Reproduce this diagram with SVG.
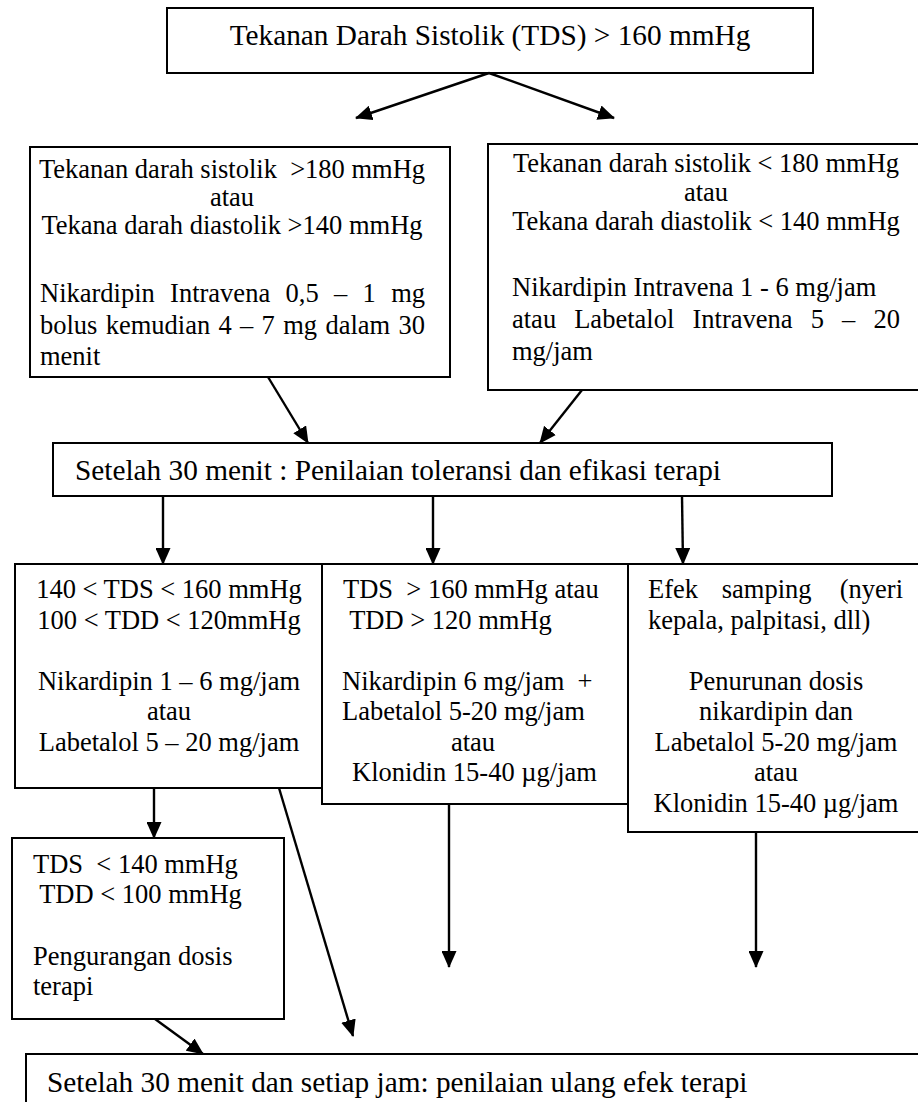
<svg xmlns="http://www.w3.org/2000/svg" width="918" height="1102" viewBox="0 0 918 1102">
<style>
.box{fill:#fff;stroke:#000;stroke-width:2}
.t{font-family:"Liberation Serif","Times New Roman",serif;font-size:26.5px;fill:#000;white-space:pre}
.big{font-size:29.3px}
.c{text-anchor:middle}
.conn line{stroke:#000;stroke-width:2.4;fill:none}
</style>
<defs>
<marker id="ah" viewBox="0 0 17 15" refX="16" refY="7.5" markerWidth="17" markerHeight="15" markerUnits="userSpaceOnUse" orient="auto">
<path d="M0,0 L17,7.5 L0,15 z" fill="#000"/>
</marker>
</defs>
<rect width="918" height="1102" fill="#fff"/>

<g id="top">
<rect class="box" x="167" y="8" width="646" height="65"/>
<text class="t big c" x="490" y="45">Tekanan Darah Sistolik (TDS) &gt; 160 mmHg</text>
</g>

<g id="left1">
<rect class="box" x="30" y="147" width="420" height="230"/>
<text class="t c" x="232" y="178">Tekanan darah sistolik  &gt;180 mmHg</text>
<text class="t c" x="232" y="206">atau</text>
<text class="t c" x="232" y="234">Tekana darah diastolik &gt;140 mmHg</text>
<text class="t" y="302"><tspan x="40">Nikardipin</tspan><tspan x="170.1">Intravena</tspan><tspan x="285.5">0,5</tspan><tspan x="334">–</tspan><tspan x="362.5">1</tspan><tspan x="425" text-anchor="end">mg</tspan></text>
<text class="t" y="334"><tspan x="40">bolus</tspan><tspan x="105.7">kemudian</tspan><tspan x="218.5">4</tspan><tspan x="240.1">–</tspan><tspan x="261.6">7</tspan><tspan x="283.2">mg</tspan><tspan x="325.4">dalam</tspan><tspan x="425" text-anchor="end">30</tspan></text>
<text class="t" x="40" y="365">menit</text>
</g>

<g id="right1">
<rect class="box" x="488" y="144" width="450" height="246"/>
<text class="t c" x="706" y="172">Tekanan darah sistolik &lt; 180 mmHg</text>
<text class="t c" x="706" y="201">atau</text>
<text class="t c" x="706" y="230">Tekana darah diastolik &lt; 140 mmHg</text>
<text class="t" x="512" y="296">Nikardipin Intravena 1 - 6 mg/jam</text>
<text class="t" y="328"><tspan x="512">atau</tspan><tspan x="574.2">Labetalol</tspan><tspan x="692.5">Intravena</tspan><tspan x="810.7">5</tspan><tspan x="842.1">–</tspan><tspan x="900" text-anchor="end">20</tspan></text>
<text class="t" x="512" y="360">mg/jam</text>
</g>

<g id="mid">
<rect class="box" x="53" y="443" width="779" height="53"/>
<text class="t big" x="75" y="480">Setelah 30 menit : Penilaian toleransi dan efikasi terapi</text>
</g>

<g id="rowL">
<rect class="box" x="15" y="564" width="307" height="224"/>
<text class="t c" x="169" y="598">140 &lt; TDS &lt; 160 mmHg</text>
<text class="t c" x="169" y="629">100 &lt; TDD &lt; 120mmHg</text>
<text class="t c" x="169" y="690">Nikardipin 1 – 6 mg/jam</text>
<text class="t c" x="169" y="720">atau</text>
<text class="t c" x="169" y="751">Labetalol 5 – 20 mg/jam</text>
</g>

<g id="rowM">
<rect class="box" x="322" y="564" width="306" height="240"/>
<text class="t" x="343" y="598">TDS  &gt; 160 mmHg atau</text>
<text class="t" x="343" y="629"> TDD &gt; 120 mmHg</text>
<text class="t" x="342" y="690">Nikardipin 6 mg/jam  +</text>
<text class="t" x="342" y="720">Labetalol 5-20 mg/jam</text>
<text class="t c" x="473" y="751">atau</text>
<text class="t" x="352" y="781">Klonidin 15-40 µg/jam</text>
</g>

<g id="rowR">
<rect class="box" x="628" y="564" width="310" height="268"/>
<text class="t" y="598"><tspan x="648">Efek</tspan><tspan x="721.8">samping</tspan><tspan x="903" text-anchor="end">(nyeri</tspan></text>
<text class="t" x="648" y="629">kepala, palpitasi, dll)</text>
<text class="t c" x="776" y="690">Penurunan dosis</text>
<text class="t c" x="776" y="720">nikardipin dan</text>
<text class="t c" x="776" y="751">Labetalol 5-20 mg/jam</text>
<text class="t c" x="776" y="781">atau</text>
<text class="t c" x="776" y="812">Klonidin 15-40 µg/jam</text>
</g>

<g id="lowL">
<rect class="box" x="12" y="838" width="272" height="181"/>
<text class="t" x="33" y="873">TDS  &lt; 140 mmHg</text>
<text class="t" x="33" y="903"> TDD &lt; 100 mmHg</text>
<text class="t" x="33" y="965">Pengurangan dosis</text>
<text class="t" x="33" y="995">terapi</text>
</g>

<g id="bottom">
<rect class="box" x="26" y="1054" width="910" height="70"/>
<text class="t big" x="47" y="1092">Setelah 30 menit dan setiap jam: penilaian ulang efek terapi</text>
</g>

<g id="connectors" class="conn">
<line x1="489" y1="73" x2="356" y2="118" marker-end="url(#ah)"/>
<line x1="489" y1="73" x2="614" y2="118" marker-end="url(#ah)"/>
<line x1="268" y1="377" x2="308" y2="443" marker-end="url(#ah)"/>
<line x1="582" y1="390" x2="540" y2="443" marker-end="url(#ah)"/>
<line x1="163" y1="496" x2="163" y2="564" marker-end="url(#ah)"/>
<line x1="433" y1="496" x2="433" y2="564" marker-end="url(#ah)"/>
<line x1="682" y1="496" x2="683" y2="564" marker-end="url(#ah)"/>
<line x1="154" y1="788" x2="154" y2="838" marker-end="url(#ah)"/>
<line x1="279" y1="788" x2="353" y2="1036" marker-end="url(#ah)"/>
<line x1="449" y1="804" x2="449" y2="967" marker-end="url(#ah)"/>
<line x1="756" y1="832" x2="756" y2="967" marker-end="url(#ah)"/>
<line x1="155" y1="1019" x2="203" y2="1054" marker-end="url(#ah)"/>
</g>
</svg>
